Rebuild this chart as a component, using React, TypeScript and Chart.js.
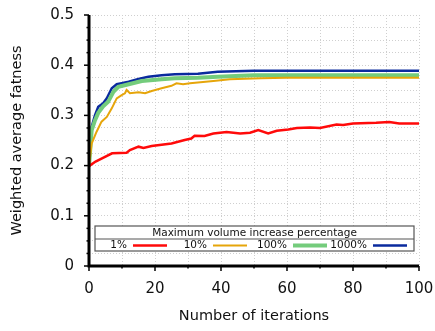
import React, { useEffect, useRef } from "react";
import { Chart, registerables } from "chart.js";

Chart.register(...registerables);

// ---- data ----
const seriesLabels = ["1%", "10%", "100%", "1000%"];
const legendTitle = "Maximum volume increase percentage";
const xTitle = "Number of iterations";
const yTitle = "Weighted average fatness";

const redIter = [0, 2, 5, 7, 11.4, 12.4, 15, 16.5, 19, 25, 29, 31, 32, 35, 37.7, 41.7, 45.8, 48.8, 51.3, 54.3, 56.9, 60.4, 63, 67, 70, 75, 77, 80, 87, 91, 94, 100];
const redVals = [0.199, 0.208, 0.218, 0.2245, 0.2257, 0.231, 0.2377, 0.235, 0.239, 0.244, 0.251, 0.254, 0.2595, 0.259, 0.264, 0.267, 0.264, 0.2655, 0.271, 0.264, 0.2695, 0.272, 0.275, 0.276, 0.275, 0.282, 0.281, 0.284, 0.2855, 0.287, 0.284, 0.284];

const orangeIter = [0, 0.8, 2.3, 3.8, 5.4, 6.9, 8.4, 9.9, 10.9, 11.4, 12.4, 15, 17, 19, 22, 25, 26.5, 28.5, 30.6, 37.7, 42.7, 52, 60, 100];
const orangeVals = [0.199, 0.244, 0.2675, 0.2875, 0.297, 0.314, 0.334, 0.3405, 0.344, 0.3505, 0.344, 0.346, 0.344, 0.3485, 0.354, 0.359, 0.364, 0.362, 0.364, 0.3685, 0.372, 0.374, 0.375, 0.375];

const greenIter = [0, 0.8, 1.8, 2.8, 4.3, 5.8, 7.4, 8.9, 12, 16, 22, 26, 33, 39, 50, 100];
const greenVals = [0.199, 0.27, 0.29, 0.305, 0.318, 0.327, 0.347, 0.357, 0.362, 0.3685, 0.372, 0.374, 0.375, 0.377, 0.38, 0.38];

const blueIter = [0, 0.8, 1.8, 2.8, 4.3, 5.4, 6.9, 8.4, 9.9, 12, 15, 18, 22, 26, 33, 39, 50, 100];
const blueVals = [0.199, 0.277, 0.3, 0.317, 0.324, 0.334, 0.354, 0.362, 0.364, 0.367, 0.3725, 0.377, 0.38, 0.382, 0.383, 0.387, 0.389, 0.389];

const seriesColors = ["#ff0a0a", "#e6a50a", "#74cc7c", "#0a2a9e"];
const seriesWidths = [2.5, 2, 4, 2.5];

const FONT = "'DejaVu Sans', Verdana, sans-serif";

const toPoints = (xs: number[], ys: number[]) => xs.map((x, i) => ({ x, y: ys[i] }));

const isMultiple = (v: number, step: number) => Math.abs(v / step - Math.round(v / step)) < 1e-6;

const axesPlugin = {
  id: "axesTicks",
  afterDatasetsDraw(chart: any) {
    const { ctx, chartArea, scales } = chart;
    const { left, right, top, bottom } = chartArea;
    const xs = scales.x;
    const ys = scales.y;
    ctx.save();
    ctx.strokeStyle = "#000";
    ctx.lineWidth = 1.5;
    for (let i = 0; i <= 20; i++) {
      const v = i * 0.025;
      const py = ys.getPixelForValue(v);
      const len = isMultiple(v, 0.1) ? 5 : 2.5;
      ctx.beginPath();
      ctx.moveTo(left - len, py);
      ctx.lineTo(left, py);
      ctx.stroke();
    }
    for (let i = 0; i <= 10; i++) {
      const v = i * 10;
      const px = xs.getPixelForValue(v);
      const len = isMultiple(v, 20) ? 5 : 2.5;
      ctx.beginPath();
      ctx.moveTo(px, bottom);
      ctx.lineTo(px, bottom + len);
      ctx.stroke();
    }
    ctx.lineWidth = 3;
    ctx.beginPath();
    ctx.moveTo(left, top);
    ctx.lineTo(left, bottom);
    ctx.lineTo(right, bottom);
    ctx.stroke();
    ctx.restore();
  },
};

const legendPlugin = {
  id: "boxLegend",
  afterDraw(chart: any) {
    const { ctx, chartArea } = chart;
    const bx = chartArea.left + 6;
    const bw = chartArea.right - 5 - bx;
    const by = chartArea.bottom - 40;
    const bh = 25;
    ctx.save();
    ctx.fillStyle = "#fff";
    ctx.fillRect(bx, by, bw, bh);
    ctx.strokeStyle = "#555";
    ctx.lineWidth = 1.2;
    ctx.strokeRect(bx, by, bw, bh);
    ctx.beginPath();
    ctx.moveTo(bx, by + 13);
    ctx.lineTo(bx + bw, by + 13);
    ctx.stroke();
    ctx.fillStyle = "#111";
    ctx.font = `10.5px ${FONT}`;
    ctx.textBaseline = "middle";
    ctx.textAlign = "center";
    ctx.fillText(legendTitle, bx + bw / 2, by + 6.8);
    seriesLabels.forEach((lab, i) => {
      const tr = bx + 32 + 80 * i;
      ctx.textAlign = "right";
      ctx.fillStyle = "#111";
      ctx.fillText(lab, tr, by + 19.5);
      ctx.strokeStyle = seriesColors[i];
      ctx.lineWidth = seriesWidths[i];
      ctx.beginPath();
      ctx.moveTo(tr + 6, by + 19.5);
      ctx.lineTo(tr + 40, by + 19.5);
      ctx.stroke();
    });
    ctx.restore();
  },
};

export default function App() {
  const ref = useRef<HTMLCanvasElement | null>(null);
  useEffect(() => {
    if (!ref.current) return;
    const allSeries = [
      toPoints(redIter, redVals),
      toPoints(orangeIter, orangeVals),
      toPoints(greenIter, greenVals),
      toPoints(blueIter, blueVals),
    ];
    const chart = new Chart(ref.current, {
      type: "line",
      data: {
        datasets: allSeries.map((d, i) => ({
          label: seriesLabels[i],
          data: d,
          borderColor: seriesColors[i],
          backgroundColor: seriesColors[i],
          borderWidth: seriesWidths[i],
          pointRadius: 0,
          tension: 0,
          fill: false,
        })),
      },
      options: {
        responsive: false,
        animation: false,
        devicePixelRatio: 1,
        layout: { padding: { top: 15, right: 16, left: 0, bottom: 0 } },
        plugins: { legend: { display: false }, tooltip: { enabled: false } },
        scales: {
          x: {
            type: "linear",
            min: 0,
            max: 100,
            afterFit: (s: any) => {
              s.height = 65;
              s.paddingLeft = 0;
              s.paddingRight = 0;
            },
            grid: { color: "#cfcfcf", lineWidth: 1, drawTicks: false },
            border: { display: false, dash: [1, 2] },
            ticks: {
              stepSize: 10,
              autoSkip: false,
              maxRotation: 0,
              padding: 14,
              color: "#111",
              font: { family: FONT, size: 15 },
              callback: (v: any) => (isMultiple(Number(v), 20) ? String(Number(v)) : ""),
            },
            title: {
              display: true,
              text: xTitle,
              color: "#111",
              font: { family: FONT, size: 14.5 },
              padding: { top: 0, bottom: 6 },
            },
          },
          y: {
            type: "linear",
            min: 0,
            max: 0.5,
            afterFit: (s: any) => {
              s.width = 89;
              s.paddingTop = 0;
              s.paddingBottom = 0;
            },
            grid: { color: "#cfcfcf", lineWidth: 1, drawTicks: false },
            border: { display: false, dash: [1, 2] },
            ticks: {
              stepSize: 0.025,
              autoSkip: false,
              padding: 15,
              color: "#111",
              font: { family: FONT, size: 15 },
              callback: (v: any) => {
                const n = Number(v);
                if (!isMultiple(n, 0.1)) return "";
                return n === 0 ? "0" : n.toFixed(1);
              },
            },
            title: {
              display: true,
              text: yTitle,
              color: "#111",
              font: { family: FONT, size: 14.5 },
              padding: { top: 9, bottom: 0 },
            },
          },
        },
      },
      plugins: [axesPlugin, legendPlugin],
    } as any);
    return () => chart.destroy();
  }, []);
  return (
    <div style={{ position: "fixed", left: 0, top: 0, width: 435, height: 331, background: "#fff" }}>
      <canvas ref={ref} width={435} height={331} style={{ display: "block" }} />
    </div>
  );
}
